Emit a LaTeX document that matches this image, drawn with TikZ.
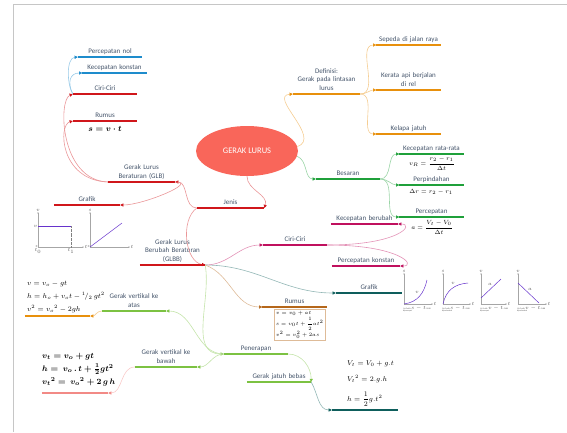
\documentclass[tikz,border=0pt]{standalone}
\usepackage{amsmath}
\usepackage{fontspec}
\setmainfont{Carlito}
\usetikzlibrary{shapes.geometric,arrows.meta}

\definecolor{txtcol}{HTML}{44546A}
\definecolor{hubred}{HTML}{F9665A}
\definecolor{orgcol}{HTML}{E8900C}
\definecolor{grncol}{HTML}{1FA03A}
\definecolor{redcol}{HTML}{D0161B}
\definecolor{blucol}{HTML}{1E8CCC}
\definecolor{magcol}{HTML}{C0105E}
\definecolor{tealcol}{HTML}{0E5E5C}
\definecolor{brncol}{HTML}{B5671A}
\definecolor{limecol}{HTML}{7CC242}
\definecolor{pinkcol}{HTML}{F28A86}

\begin{document}
\begin{tikzpicture}[
    x=1pt, y=1pt,
    topic/.style={anchor=south, inner xsep=0pt, inner ysep=1pt, text width=64pt, align=center,
                  font=\fontsize{7}{8.6}\selectfont, text=txtcol, execute at end node=\strut},
    stub/.style={anchor=south, inner sep=0pt, minimum height=1pt, minimum width=#1},
    ubar/.style={line width=1.8pt, draw=#1},
    link/.style={line width=0.6pt, draw=#1!45, -{Triangle[length=3.2pt, width=3.2pt, color=#1]}},
    frm/.style={inner sep=0pt, font=\fontsize{6.5}{8}\selectfont},
    axline/.style={line width=0.4pt, draw=gray!70, -{Stealth[length=1.5pt, width=1.5pt]}},
    curvepl/.style={line width=0.5pt, draw=blue!50!violet!80},
    glab/.style={inner sep=0.4pt, font=\fontsize{3}{3.5}\selectfont, text=gray!70!black},
    gcap/.style={inner sep=0pt, align=left, font=\fontsize{2}{2.4}\selectfont, text=gray!70!black}
]
\useasboundingbox (0,0) rectangle (567,-432);

% Page edge
\draw[gray!45, line width=0.8pt] (13,-432) -- (13,-4) -- (567,-4);

% Centre
\node[ellipse, fill=hubred, minimum width=102pt, minimum height=50pt, text=white,
      font=\fontsize{8.5}{10}\selectfont] (hub) at (247,-151) {GERAK LURUS};

% Definisi
\node[topic, text width=67pt] (defn) at (326.5,-94) {Definisi:\\Gerak pada lintasan\\lurus};
\node[topic] (sepeda) at (408.5,-45) {Sepeda di jalan raya};
\node[topic] (kereta) at (408.5,-90) {Kerata api berjalan\\di rel};
\node[topic] (kelapa) at (408.5,-134) {Kelapa jatuh};

% Besaran
\node[topic] (besaran) at (348,-179) {Besaran};
\node[topic] (vrata) at (431.5,-154) {Kecepatan rata-rata};
\node[topic] (pindah) at (431.5,-185) {Perpindahan};
\node[topic] (accel) at (431.5,-217) {Percepatan};
\node[frm, anchor=north] (fvrata) at (432,-156.5) {$v_R = \dfrac{r_2 - r_1}{\Delta t}$};
\node[frm] (fpindah) at (431,-192) {$\Delta r = r_2 - r_1$};
\node[frm, anchor=north] (faccel) at (432,-220) {$a = \dfrac{V_t - V_0}{\Delta t}$};

% Jenis
\node[topic, text width=67pt] (jenis) at (230.5,-208) {Jenis};

% GLB
\node[topic, text width=67pt] (glb) at (141.5,-182) {Gerak Lurus\\Beraturan (GLB)};
\node[topic] (ciri1) at (105,-94) {Ciri-Ciri};
\node[topic] (rumus1) at (105,-121) {Rumus};
\node[frm, font=\fontsize{8}{9}\selectfont] (frumus1) at (105,-129) {$\boldsymbol{s = v \cdot t}$};
\node[topic] (pnol) at (110,-57) {Percepatan nol};
\node[topic] (kkonst) at (114.5,-73) {Kecepatan konstan};
\node[topic, text width=66pt] (grafik1) at (87,-205) {Grafik};

% GLB graphs
\draw[axline] (38,-247) -- (38,-212);
\draw[axline] (38,-247) -- (84,-247);
\draw[curvepl, line width=0.8pt] (38,-226) -- (71,-226);
\draw[densely dotted, gray, line width=0.3pt] (71,-226) -- (71,-247);
\node[glab, anchor=south] at (38,-212) {$v$};
\node[glab, anchor=east] at (38,-226) {$v$};
\node[glab, anchor=east] at (38,-247) {0};
\node[glab, anchor=north] at (38,-248) {$t_0$};
\node[glab, anchor=north] at (71,-248) {$t_1$};
\node[glab, anchor=west] at (84,-247) {$t$};
\draw[axline] (90,-247) -- (90,-212);
\draw[axline] (90,-247) -- (130,-247);
\draw[curvepl] (90,-247) -- (122,-223);
\node[glab, anchor=south] at (90,-212) {$s$};
\node[glab, anchor=east] at (90,-247) {0};
\node[glab, anchor=west] at (130,-247) {$t$};

% GLBB
\node[topic, text width=65pt] (glbb) at (172.5,-265) {Gerak Lurus\\Berubah Beraturan\\(GLBB)};
\node[topic] (ciri2) at (295,-245) {Ciri-Ciri};
\node[topic, text width=67pt] (kubah) at (364.5,-224) {Kecepatan berubah};
\node[topic, text width=68pt] (pkonst) at (366,-266) {Percepatan konstan};
\node[topic, text width=66pt] (grafik2) at (369,-293) {Grafik};
\node[topic] (rumus2) at (294.5,-307) {Rumus};
\node[draw=brncol!45, line width=0.6pt, inner sep=1.5pt, anchor=north west, align=left,
      font=\fontsize{5.5}{11}\selectfont] (boxrumus) at (274,-309)
      {$v = v_0 + at$\\$s = v_0t + \dfrac{1}{2}at^2$\\$v^2 = v_0^2 + 2as$};

% GLBB graphs
\draw[axline] (404,-304) -- (404,-273);
\draw[axline] (404,-304) -- (433,-304);
\draw[curvepl] (404,-304) .. controls (418,-302) and (424,-293) .. (427,-280);
\node[glab, anchor=south] at (404,-273) {$s$};
\node[glab] at (417,-292) {$v$};
\node[glab, anchor=west] at (433,-304) {$t$};
\node[gcap, anchor=north west] at (403,-306) {(a) Grafik $s-t$ GLBB\\dipercepat};
\draw[axline] (443,-304) -- (443,-273);
\draw[axline] (443,-304) -- (471,-304);
\draw[curvepl] (443,-304) .. controls (446,-290) and (455,-284) .. (468,-283);
\node[glab, anchor=south] at (443,-273) {$s$};
\node[glab] at (453,-283) {$v$};
\node[glab, anchor=west] at (471,-304) {$t$};
\node[gcap, anchor=north west] at (442,-306) {(b) Grafik $s-t$ GLBB\\diperlambat};
\draw[axline] (481,-304) -- (481,-273);
\draw[axline] (481,-304) -- (507,-304);
\draw[curvepl] (481,-298) -- (501,-279);
\node[glab, anchor=south] at (481,-273) {$v$};
\node[glab] at (490,-284) {$a$};
\node[glab, anchor=west] at (507,-304) {$t$};
\node[gcap, anchor=north west] at (480,-306) {(c) Grafik $v-t$ GLBB\\dipercepat};
\draw[axline] (518,-304) -- (518,-273);
\draw[axline] (518,-304) -- (547,-304);
\draw[curvepl] (518,-283) -- (539,-303);
\node[glab, anchor=south] at (518,-273) {$v$};
\node[glab] at (530,-289) {$a$};
\node[glab, anchor=west] at (547,-304) {$t$};
\node[gcap, anchor=north west] at (517,-306) {(d) Grafik $v-t$ GLBB\\diperlambat};

% Penerapan
\node[topic] (penerapan) at (256,-354) {Penerapan};
\node[topic] (vatas) at (134,-311) {Gerak vertikal ke\\atas};
\node[topic, text width=62pt] (vbawah) at (166,-367) {Gerak vertikal ke\\bawah};
\node[topic] (jatuh) at (279,-382) {Gerak jatuh bebas};
\node[stub=65pt] (fatasl) at (57.5,-316) {};
\node[stub=66pt] (fbawahl) at (75,-393) {};
\node[stub=66pt] (fjatuhl) at (365,-410) {};
\node[frm, anchor=south west, align=left, font=\fontsize{7.5}{13}\selectfont] (fatas) at (27,-313)
      {$v = v_o - gt$\\$h = h_o + v_o t - {}^1\!/_2\, gt^2$\\$v^2 = {v_o}^{2} - 2gh$};
\node[frm, anchor=south west, align=left, font=\fontsize{8}{13}\selectfont] (fbawah) at (42,-386)
      {$\boldsymbol{v_t = v_o + gt}$\\$\boldsymbol{h =\ v_o\,.\,t + \tfrac{1}{2}gt^2}$\\$\boldsymbol{{v_t}^{2} =\ {v_o}^{2} + 2\,g\,h}$};
\node[frm, anchor=west, font=\fontsize{7}{9}\selectfont] (fj1) at (347,-364) {$V_t = V_0 + g.t$};
\node[frm, anchor=west, font=\fontsize{7}{9}\selectfont] (fj2) at (347,-379) {${V_t}^{2} = 2.g.h$};
\node[frm, anchor=west, font=\fontsize{7}{9}\selectfont] (fj3) at (347,-399) {$h = \dfrac{1}{2}g.t^2$};

% Connectors
\draw[link=orgcol] (hub.5) .. controls (322,-138) and (268,-96) .. (defn.south west);
\draw[link=orgcol] (defn.south east) to[out=0,in=180] (sepeda.south west);
\draw[link=orgcol] (defn.south east) to[out=0,in=180] (kereta.south west);
\draw[link=orgcol] (defn.south east) to[out=0,in=180] (kelapa.south west);
\draw[link=grncol] (hub.-6) to[out=-20,in=180] (besaran.south west);
\draw[link=grncol] (besaran.south east) to[out=0,in=180] (vrata.south west);
\draw[link=grncol] (besaran.south east) to[out=0,in=180] (pindah.south west);
\draw[link=grncol] (besaran.south east) to[out=0,in=180] (accel.south west);
\draw[link=redcol] (hub.south) to[out=-90,in=70] (jenis.south east);
\draw[link=redcol] (jenis.south west) to[out=180,in=0] (glb.south east);
\draw[link=redcol] (glb.south east) to[out=0,in=0] (grafik1.south east);
\draw[link=redcol] (jenis.south west) .. controls (180,-220) and (185,-262) .. (glbb.south east);
\draw[link=redcol] (glb.south west) .. controls (60,-180) and (58,-100) .. (ciri1.south west);
\draw[link=redcol] (glb.south west) .. controls (60,-180) and (58,-125) .. (rumus1.south west);
\draw[link=blucol] (ciri1.south west) .. controls (67,-85) and (66,-58) .. (pnol.south west);
\draw[link=blucol] (ciri1.south west) .. controls (67,-82) and (70,-73) .. (kkonst.south west);
\draw[link=magcol] (glbb.south east) to[out=0,in=180] (ciri2.south west);
\draw[link=magcol] (ciri2.south east) .. controls (400,-245) and (415,-224) .. (kubah.south east);
\draw[link=magcol] (ciri2.south east) .. controls (400,-245) and (417,-266) .. (pkonst.south east);
\draw[link=tealcol] (glbb.south east) to[out=0,in=180] (grafik2.south west);
\draw[link=brncol] (glbb.south east) to[out=-20,in=180] (rumus2.south west);
\draw[link=limecol] (glbb.south east) to[out=-80,in=180] (penerapan.south west);
\draw[link=limecol] (penerapan.south west) to[out=180,in=0] (vatas.south east);
\draw[link=limecol] (penerapan.south west) to[out=180,in=0] (vbawah.south east);
\draw[link=limecol] (penerapan.south east) to[out=0,in=90] (jatuh.south east);
\draw[link=orgcol] (vatas.south west) to[out=180,in=0] (fatasl.south east);
\draw[link=pinkcol] (vbawah.south west) to[out=180,in=0] (fbawahl.south east);
\draw[link=tealcol] (jatuh.south east) to[out=-60,in=180] (fjatuhl.south west);

% Underlines
\draw[ubar=orgcol] (defn.south west) -- (defn.south east);
\draw[ubar=orgcol] (sepeda.south west) -- (sepeda.south east);
\draw[ubar=orgcol] (kereta.south west) -- (kereta.south east);
\draw[ubar=orgcol] (kelapa.south west) -- (kelapa.south east);
\draw[ubar=grncol] (besaran.south west) -- (besaran.south east);
\draw[ubar=grncol] (vrata.south west) -- (vrata.south east);
\draw[ubar=grncol] (pindah.south west) -- (pindah.south east);
\draw[ubar=grncol] (accel.south west) -- (accel.south east);
\draw[ubar=redcol] (jenis.south west) -- (jenis.south east);
\draw[ubar=redcol] (glb.south west) -- (glb.south east);
\draw[ubar=redcol] (ciri1.south west) -- (ciri1.south east);
\draw[ubar=redcol] (rumus1.south west) -- (rumus1.south east);
\draw[ubar=redcol] (grafik1.south west) -- (grafik1.south east);
\draw[ubar=redcol] (glbb.south west) -- (glbb.south east);
\draw[ubar=blucol] (pnol.south west) -- (pnol.south east);
\draw[ubar=blucol] (kkonst.south west) -- (kkonst.south east);
\draw[ubar=magcol] (ciri2.south west) -- (ciri2.south east);
\draw[ubar=magcol] (kubah.south west) -- (kubah.south east);
\draw[ubar=magcol] (pkonst.south west) -- (pkonst.south east);
\draw[ubar=tealcol] (grafik2.south west) -- (grafik2.south east);
\draw[ubar=brncol] (rumus2.south west) -- (rumus2.south east);
\draw[ubar=limecol] (penerapan.south west) -- (penerapan.south east);
\draw[ubar=limecol] (vatas.south west) -- (vatas.south east);
\draw[ubar=limecol] (vbawah.south west) -- (vbawah.south east);
\draw[ubar=limecol] (jatuh.south west) -- (jatuh.south east);
\draw[ubar=orgcol] (fatasl.south west) -- (fatasl.south east);
\draw[ubar=pinkcol] (fbawahl.south west) -- (fbawahl.south east);
\draw[ubar=tealcol] (fjatuhl.south west) -- (fjatuhl.south east);

\end{tikzpicture}
\end{document}
